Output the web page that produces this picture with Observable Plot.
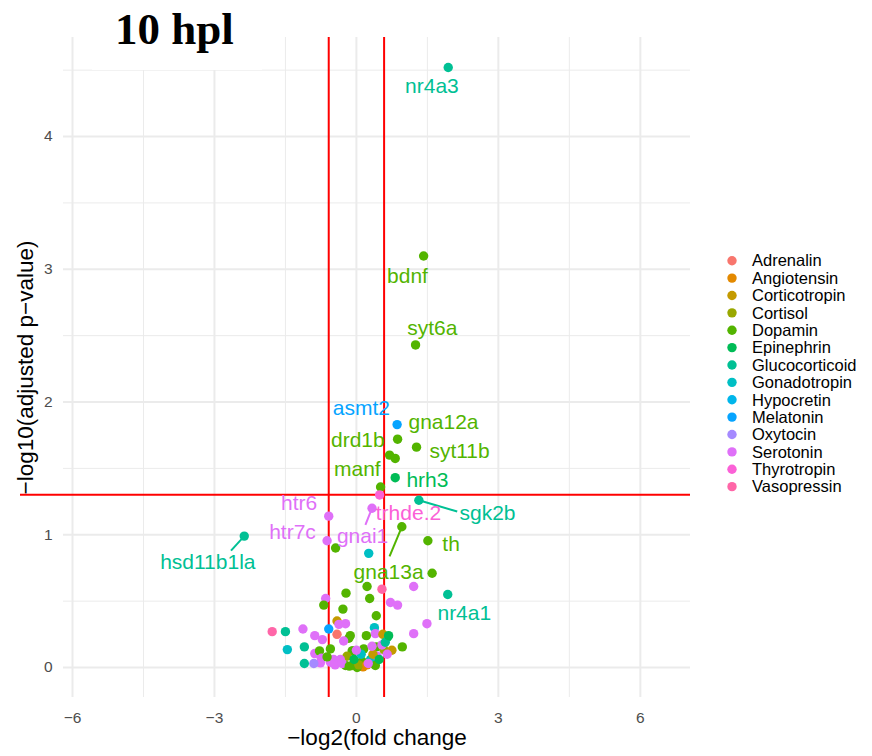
<!DOCTYPE html>
<html>
<head>
<meta charset="utf-8">
<script src="https://cdn.jsdelivr.net/npm/d3@7"></script>
<script src="https://cdn.jsdelivr.net/npm/@observablehq/plot@0.6"></script>
<style>
  html, body { margin: 0; padding: 0; background: #fff; }
  #wrap { position: relative; width: 872px; height: 756px; overflow: hidden; font-family: "Liberation Sans", Arial, sans-serif; }
  #wrap > svg { position: absolute; left: 0; top: 0; }
  #title { position: absolute; left: 92px; top: 0; width: 170px; height: 70px; background: #fff; }
  #title span { position: absolute; left: 23px; top: 7px; line-height: 44px; font-family: "Liberation Serif", "DejaVu Serif", serif; font-weight: bold; font-size: 45px; color: #000; white-space: nowrap; }
  #legend { position: absolute; left: 715px; top: 245px; }
</style>
</head>
<body>
<div id="wrap"></div>
<script>
// ---------- data ----------
const hormones = ["Adrenalin","Angiotensin","Corticotropin","Cortisol","Dopamin","Epinephrin","Glucocorticoid","Gonadotropin","Hypocretin","Melatonin","Oxytocin","Serotonin","Thyrotropin","Vasopressin"];
const palette = ["#F8766D","#E38900","#C49A00","#99A800","#53B400","#00BC56","#00C094","#00BFC4","#00B6EB","#06A4FF","#A58AFF","#DF70F8","#FB61D7","#FF66A8"];

const genes = ["nr4a3","bdnf","syt6a","asmt2","gna12a","syt11b","drd1b","","hrh3","manf","trhde.2","sgk2b","gnai1","htr6","gna13a","htr7c","th","hsd11b1la","nr4a1",
  "","","","","","","","","","","","","","","","","","","","","","","","","","","","","","","","","","","","","","","","","","","","","","","","","","","","","","","","","","","","","","","","","","","","","","","",""];
const logFC = [1.94,1.42,1.25,0.86,0.87,1.27,0.70,0.82,0.82,0.51,0.49,1.32,0.33,-0.585,0.96,-0.62,1.51,-2.37,1.93,
  -0.44,0.26,1.60,0.225,0.54,1.21,-0.22,-0.65,-0.69,0.28,-0.285,0.72,0.87,0.42,1.49,1.21,
  -0.41,-0.37,-0.23,-0.585,-0.41,-1.78,-1.50,-1.13,-0.88,-0.72,-0.13,-0.16,-0.27,0.38,0.40,0.66,0.56,0.21,0.42,
  -1.46,-1.10,-1.10,-0.88,-0.78,-0.55,-0.74,-0.76,-0.90,-0.48,-0.09,-0.07,0.155,-0.20,-0.34,-0.23,-0.09,0.14,0.015,0.12,0.30,0.30,0.44,0.40,
  0.58,0.75,0.97,0.65,0.54,0.61,0.68,-0.55,-0.45,-0.30,-0.15,0.05,0.22,0.25,0.35,0.48,-0.05,0.10,0.00,-0.62,0.33];
const negLogP = [4.52,3.10,2.43,1.83,1.72,1.66,1.60,1.575,1.43,1.36,1.30,1.26,1.20,1.14,1.06,0.955,0.955,0.99,0.55,
  0.90,0.86,0.71,0.61,0.59,0.61,0.56,0.52,0.47,0.52,0.44,0.49,0.47,0.39,0.33,0.255,
  0.35,0.325,0.33,0.29,0.25,0.27,0.27,0.29,0.24,0.21,0.24,0.22,0.20,0.30,0.255,0.23,0.25,0.24,0.155,
  0.135,0.155,0.03,0.105,0.125,0.14,0.07,0.035,0.03,0.06,0.125,0.125,0.14,0.085,0.06,0.015,0.015,0.005,0.0,0.047,0.06,0.047,0.085,0.015,
  0.135,0.13,0.155,0.10,0.17,0.19,0.24,0.04,0.02,0.03,0.01,0.02,0.02,0.03,0.10,0.06,0.06,0.10,0.13,0.08,0.16];
const hormone = ["Glucocorticoid","Dopamin","Dopamin","Melatonin","Dopamin","Dopamin","Dopamin","Dopamin","Epinephrin","Dopamin","Thyrotropin","Glucocorticoid","Serotonin","Serotonin","Dopamin","Serotonin","Dopamin","Glucocorticoid","Glucocorticoid",
  "Dopamin","Gonadotropin","Dopamin","Dopamin","Vasopressin","Serotonin","Dopamin","Serotonin","Dopamin","Dopamin","Dopamin","Serotonin","Serotonin","Dopamin","Serotonin","Serotonin",
  "Corticotropin","Serotonin","Serotonin","Melatonin","Adrenalin","Vasopressin","Glucocorticoid","Serotonin","Serotonin","Serotonin","Dopamin","Dopamin","Serotonin","Gonadotropin","Serotonin","Epinephrin","Corticotropin","Dopamin","Dopamin",
  "Gonadotropin","Glucocorticoid","Glucocorticoid","Serotonin","Dopamin","Dopamin","Serotonin","Serotonin","Oxytocin","Serotonin","Dopamin","Dopamin","Dopamin","Cortisol","Serotonin","Dopamin","Cortisol","Angiotensin","Dopamin","Dopamin","Glucocorticoid","Gonadotropin","Serotonin","Dopamin",
  "Cortisol","Corticotropin","Dopamin","Serotonin","Serotonin","Glucocorticoid","Epinephrin","Serotonin","Serotonin","Serotonin","Dopamin","Cortisol","Angiotensin","Serotonin","Corticotropin","Epinephrin","Epinephrin","Gonadotropin","Serotonin","Dopamin","Serotonin"];

// thresholds and ticks
const fcThresholds = [-0.585, 0.585];
const pThreshold = 1.301;
const xTicks = [-6, -3, 0, 3, 6];
const xMinor = [-4.5, -1.5, 1.5, 4.5];
const yTicks = [0, 1, 2, 3, 4];
const yMinor = [0.5, 1.5, 2.5, 3.5, 4.5];
const xTitle = "\u2212log2(fold change";
const yTitle = "\u2212log10(adjusted p\u2212value)";
const titleText = "10 hpl";

// repelled label placement (data units)
const labelGenes = ["nr4a3","bdnf","syt6a","asmt2","gna12a","drd1b","syt11b","manf","hrh3","trhde.2","sgk2b","gnai1","htr6","htr7c","hsd11b1la","th","gna13a","nr4a1"];
const labelX = [1.595,1.08,1.605,0.105,1.84,0.03,2.18,0.02,1.50,1.10,2.77,0.13,-1.21,-1.35,-3.14,2.0,0.68,2.28];
const labelY = [4.38,2.95,2.555,1.95,1.85,1.71,1.63,1.49,1.41,1.165,1.165,0.985,1.24,1.015,0.79,0.925,0.72,0.41];
const segGenes = ["hsd11b1la","sgk2b","gna13a","gnai1"];
const segEndX = [-2.65, 2.13, 0.70, 0.19];
const segEndY = [0.88, 1.175, 0.837, 1.075];

// ---------- build ----------
const data = logFC.map((v, i) => ({gene: genes[i], fc: v, p: negLogP[i], hormone: hormone[i]}));
const byGene = new Map(data.filter(d => d.gene).map(d => [d.gene, d]));
const labels = labelGenes.map((g, i) => ({gene: g, lx: labelX[i], ly: labelY[i], hormone: byGene.get(g).hormone}));
const segs = segGenes.map((g, i) => ({x1: byGene.get(g).fc, y1: byGene.get(g).p, x2: segEndX[i], y2: segEndY[i], hormone: byGene.get(g).hormone}));

const plot = Plot.plot({
  width: 872, height: 756,
  marginLeft: 63, marginRight: 182, marginTop: 37, marginBottom: 59,
  x: {domain: [-6.19, 7.06]},
  y: {domain: [-0.226, 4.746]},
  color: {domain: hormones, range: palette},
  style: {fontFamily: "'Liberation Sans', Arial, sans-serif", background: "white", overflow: "visible", fontSize: "15px"},
  marks: [
    Plot.gridX({ticks: xMinor, stroke: "#EBEBEB", strokeOpacity: 1, strokeWidth: 1}),
    Plot.gridY({ticks: yMinor, stroke: "#EBEBEB", strokeOpacity: 1, strokeWidth: 1}),
    Plot.gridX({ticks: xTicks, stroke: "#EBEBEB", strokeOpacity: 1, strokeWidth: 2}),
    Plot.gridY({ticks: yTicks, stroke: "#EBEBEB", strokeOpacity: 1, strokeWidth: 2}),
    Plot.axisX({ticks: xTicks, tickFormat: d3.format("d"), tickSize: 0, tickPadding: 14, fontSize: 15.5, color: "#4D4D4D", label: null}),
    Plot.axisY({ticks: yTicks, tickFormat: d3.format("d"), tickSize: 0, tickPadding: 11, fontSize: 15.5, color: "#4D4D4D", label: null}),
    Plot.ruleX(fcThresholds, {stroke: "#FF0000", strokeWidth: 2}),
    Plot.ruleY([pThreshold], {stroke: "#FF0000", strokeWidth: 2, insetLeft: -43}),
    Plot.dot(data, {x: "fc", y: "p", fill: "hormone", r: 4.7}),
    Plot.link(segs, {x1: "x1", y1: "y1", x2: "x2", y2: "y2", stroke: "hormone", strokeWidth: 2}),
    Plot.text(labels, {x: "lx", y: "ly", text: "gene", fill: "hormone", fontSize: 21}),
    Plot.text([xTitle], {frameAnchor: "bottom", dy: 47, fontSize: 22.5, fill: "#000"}),
    Plot.text([yTitle], {frameAnchor: "left", textAnchor: "middle", dx: -38, rotate: -90, fontSize: 22.5, fill: "#000"})
  ]
});

const wrap = document.getElementById("wrap");
wrap.appendChild(plot);

// title with white backing box
const t = document.createElement("div");
t.id = "title";
const ts = document.createElement("span");
ts.textContent = titleText;
t.appendChild(ts);
wrap.appendChild(t);

// legend (from plot's color scale)
const cs = plot.scale("color");
const lg = d3.select(wrap).append("div").attr("id", "legend")
  .append("svg").attr("width", 157).attr("height", 260)
  .style("font-family", "'Liberation Sans', Arial, sans-serif");
const rowH = 17.38;
cs.domain.forEach((h, i) => {
  const g = lg.append("g").attr("transform", `translate(0, ${15.7 + i * rowH})`);
  g.append("circle").attr("cx", 17).attr("cy", 0).attr("r", 4.7).attr("fill", cs.range[i]);
  g.append("text").attr("x", 37).attr("y", 0).attr("dy", "0.35em").attr("font-size", 16.5).attr("fill", "#000").text(h);
});
</script>
</body>
</html>
